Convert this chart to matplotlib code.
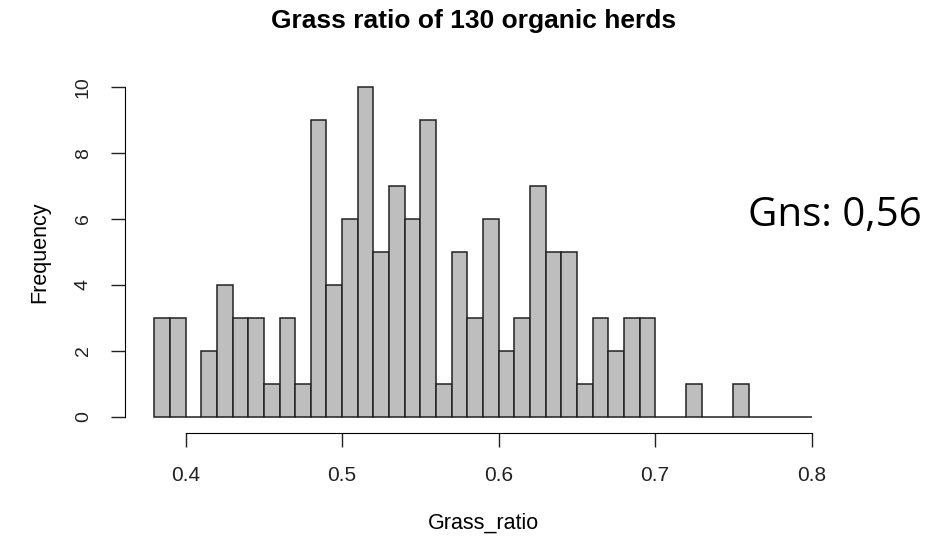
import numpy as np
import matplotlib.pyplot as plt

# Histogram counts, bins of width 0.01 from 0.38 to 0.80
bin_edges = np.round(np.arange(0.38, 0.8001, 0.01), 2)
counts = [3, 3, 0, 2, 4, 3, 3, 1, 3, 1,
          9, 4, 6, 10, 5, 7, 6, 9, 1, 5,
          3, 6, 2, 3, 7, 5, 5, 1, 3, 2,
          3, 3, 0, 0, 1, 0, 0, 1, 0, 0,
          0, 0]
x_ticks = [0.4, 0.5, 0.6, 0.7, 0.8]
y_ticks = [0, 2, 4, 6, 8, 10]

W, H = 948, 539
fig = plt.figure(figsize=(W / 100, H / 100), dpi=100)
ax = fig.add_axes([128 / W, 1 - 430 / H, (838 - 128) / W, (430 - 74) / H])

ax.bar(bin_edges[:-1], counts, width=0.01, align="edge",
       color="#bebebe", edgecolor="#222222", linewidth=1.1)

ax.set_xlim(0.3632, 0.8168)
ax.set_ylim(-0.4, 10.4)

for s in ["top", "right"]:
    ax.spines[s].set_visible(False)
ax.spines["left"].set_bounds(0, 10)
ax.spines["bottom"].set_bounds(0.4, 0.8)
ax.spines["left"].set_position(("outward", 2))
ax.spines["bottom"].set_position(("outward", 2))

ax.set_xticks(x_ticks)
ax.set_xticklabels([str(t) for t in x_ticks])
ax.set_yticks(y_ticks)
ax.set_yticklabels([str(t) for t in y_ticks], rotation=90, va="center")
ax.tick_params(axis="both", direction="out", length=10, width=1,
               labelsize=15, pad=14, colors="#222222")
ax.tick_params(axis="y", labelsize=14)
for lbl in ax.get_xticklabels() + ax.get_yticklabels():
    lbl.set_family("Liberation Sans")

ax.set_xlabel("Grass_ratio", family="Liberation Sans", fontsize=15.5, labelpad=20)
ax.set_ylabel("Frequency", family="Liberation Sans", fontsize=15.5, labelpad=18)

fig.text(0.5, 1 - 21 / H, "Grass ratio of 130 organic herds",
         family="Liberation Sans", fontweight="bold", fontsize=19,
         ha="center", va="center")
fig.text(835 / W, 1 - 216 / H, "Gns: 0,56", family="Open Sans",
         fontsize=29, ha="center", va="center")

fig.savefig("out.png", dpi=100)
